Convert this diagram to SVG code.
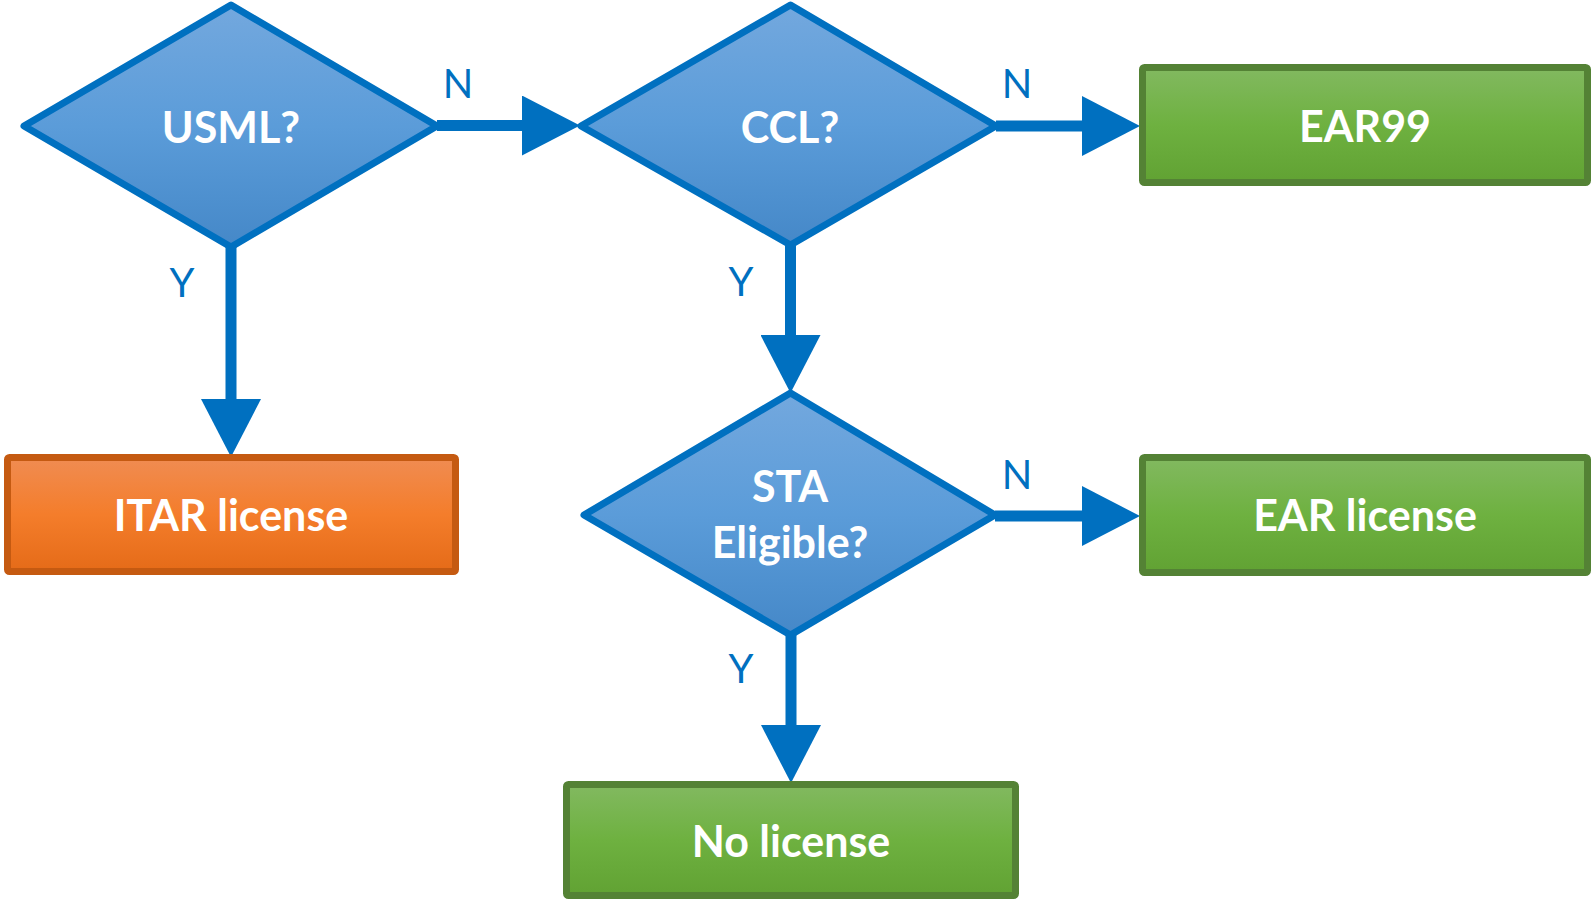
<svg xmlns="http://www.w3.org/2000/svg" width="1593" height="900" viewBox="0 0 1593 900">
<defs>
<linearGradient id="gBlue" x1="0" y1="0" x2="0" y2="1">
<stop offset="0" stop-color="#73a8de"/>
<stop offset="0.5" stop-color="#5b9cd9"/>
<stop offset="1" stop-color="#4588c8"/>
</linearGradient>
<linearGradient id="gGreen" x1="0" y1="0" x2="0" y2="1">
<stop offset="0" stop-color="#82b960"/>
<stop offset="0.5" stop-color="#6eb140"/>
<stop offset="1" stop-color="#61a233"/>
</linearGradient>
<linearGradient id="gOrange" x1="0" y1="0" x2="0" y2="1">
<stop offset="0" stop-color="#f08c52"/>
<stop offset="0.5" stop-color="#f47d2b"/>
<stop offset="1" stop-color="#e56b18"/>
</linearGradient>
<marker id="arr" markerUnits="userSpaceOnUse" markerWidth="58" markerHeight="60" viewBox="0 0 58 60" refX="0" refY="30" orient="auto">
<path d="M0,0 L58,30 L0,60 Z" fill="#0070c0"/>
</marker>
<style>
.dia{fill:url(#gBlue);stroke:#0070c0;stroke-width:7;stroke-linejoin:round}
.grn{fill:url(#gGreen);stroke:#548235;stroke-width:7;stroke-linejoin:round}
.org{fill:url(#gOrange);stroke:#c55a11;stroke-width:7;stroke-linejoin:round}
.t{font-family:Lato,"Liberation Sans",sans-serif;font-weight:bold;font-size:43px;fill:#ffffff;text-anchor:middle}
.lbl{font-family:Lato,"Liberation Sans",sans-serif;font-size:40px;fill:#0070c0;text-anchor:middle}
.c{stroke:#0070c0;stroke-width:11;fill:none;marker-end:url(#arr)}
</style>
</defs>
<g id="connectors">
<line class="c" x1="437" y1="125.5" x2="522" y2="125.5"/>
<line class="c" x1="996" y1="126" x2="1082" y2="126"/>
<line class="c" x1="995" y1="516" x2="1082" y2="516"/>
<line class="c" x1="231" y1="247" x2="231" y2="399"/>
<line class="c" x1="790.5" y1="245" x2="790.5" y2="335"/>
<line class="c" x1="791" y1="635" x2="791" y2="725"/>
<text class="lbl" x="458" y="98">N</text>
<text class="lbl" x="1017" y="98">N</text>
<text class="lbl" x="1017" y="489">N</text>
<text class="lbl" x="182" y="297">Y</text>
<text class="lbl" x="741" y="296">Y</text>
<text class="lbl" x="741" y="683">Y</text>
</g>
<g id="usml">
<polygon class="dia" points="231,5 437,126 231,247 24,126"/>
<text class="t" x="231" y="143">USML?</text>
</g>
<g id="ccl">
<polygon class="dia" points="790.5,5 996,126 790.5,245 581,126"/>
<text class="t" x="790" y="143">CCL?</text>
</g>
<g id="sta">
<polygon class="dia" points="790.5,393 995,515 790.5,635 584,515"/>
<text class="t" x="790" y="502">STA</text>
<text class="t" x="790" y="558">Eligible?</text>
</g>
<g id="ear99">
<rect class="grn" x="1142.5" y="67.5" width="445" height="115" rx="2"/>
<text class="t" x="1365" y="142">EAR99</text>
</g>
<g id="itar">
<rect class="org" x="7.5" y="457.5" width="448" height="114" rx="2"/>
<text class="t" x="231" y="531">ITAR license</text>
</g>
<g id="earlicense">
<rect class="grn" x="1142.5" y="457.5" width="445" height="115" rx="2"/>
<text class="t" x="1365" y="531">EAR license</text>
</g>
<g id="nolicense">
<rect class="grn" x="566.5" y="784.5" width="449" height="111" rx="2"/>
<text class="t" x="791" y="857">No license</text>
</g>
</svg>
